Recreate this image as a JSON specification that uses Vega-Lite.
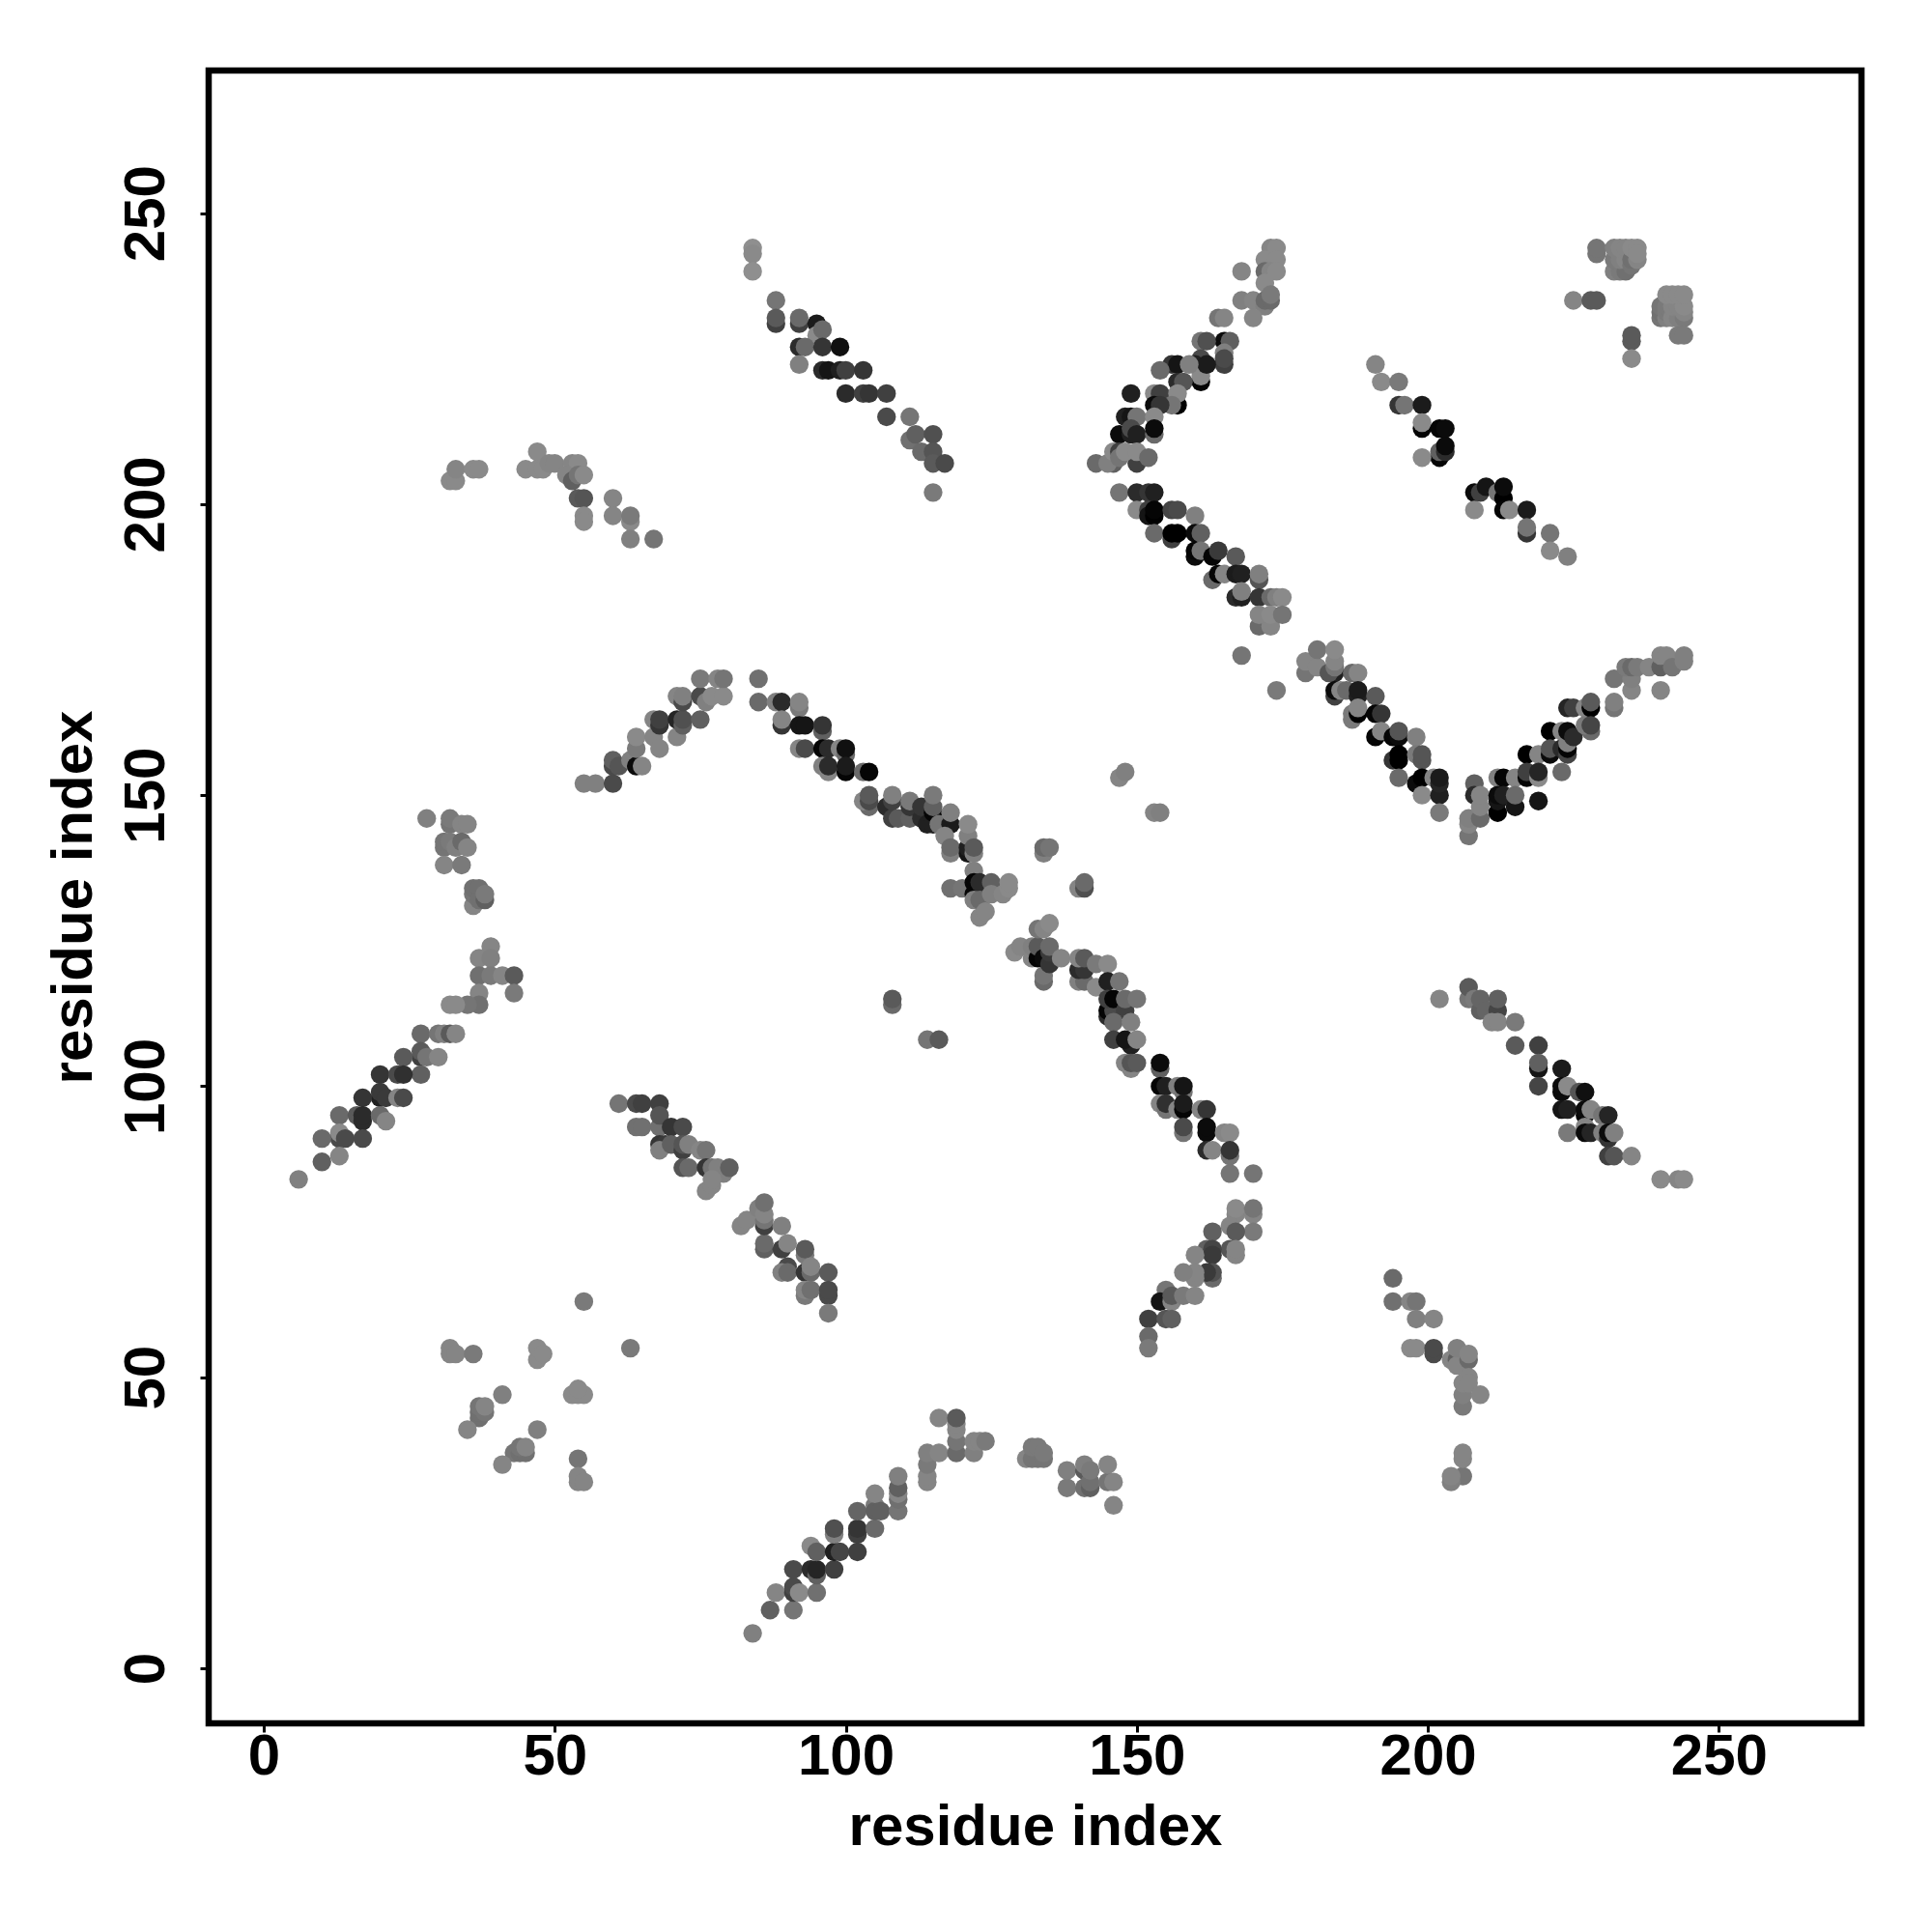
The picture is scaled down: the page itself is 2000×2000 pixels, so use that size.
{"$schema":"https://vega.github.io/schema/vega-lite/v6.json","width":1711,"height":1711,"autosize":"none","padding":{"left":216,"top":73,"right":73,"bottom":216},"background":"white","config":{"view":{"stroke":"#000000","strokeWidth":6.5,"fill":null}},
"data":{"values":[
{"x":84,"y":244,"g":135},{"x":84,"y":243,"g":130},{"x":84,"y":240,"g":135},{"x":32,"y":204,"g":130},{"x":33,"y":204,"g":130},{"x":33,"y":206,"g":125},{"x":36,"y":206,"g":130},{"x":37,"y":206,"g":130},{"x":45,"y":206,"g":130},{"x":47,"y":209,"g":130},{"x":47,"y":206,"g":130},{"x":48,"y":206,"g":130},{"x":49,"y":207,"g":125},{"x":50,"y":207,"g":125},{"x":53,"y":207,"g":125},{"x":54,"y":207,"g":130},{"x":52,"y":205,"g":125},{"x":53,"y":204,"g":90},{"x":54,"y":205,"g":110},{"x":55,"y":205,"g":130},{"x":54,"y":201,"g":85},{"x":55,"y":201,"g":80},{"x":55,"y":198,"g":130},{"x":55,"y":197,"g":130},{"x":60,"y":201,"g":125},{"x":60,"y":198,"g":125},{"x":63,"y":197,"g":130},{"x":63,"y":198,"g":115},{"x":63,"y":194,"g":120},{"x":67,"y":194,"g":110},
{"x":88,"y":235,"g":110},{"x":88,"y":231,"g":60},{"x":88,"y":232,"g":85},{"x":92,"y":231,"g":60},{"x":92,"y":232,"g":100},{"x":95,"y":231,"g":25},{"x":95,"y":229,"g":130},{"x":96,"y":230,"g":100},{"x":92,"y":227,"g":40},{"x":93,"y":227,"g":100},{"x":92,"y":224,"g":120},{"x":96,"y":227,"g":50},{"x":96,"y":223,"g":40},{"x":97,"y":223,"g":20},{"x":99,"y":227,"g":15},{"x":99,"y":223,"g":30},{"x":100,"y":223,"g":60},{"x":103,"y":223,"g":50},{"x":100,"y":219,"g":40},{"x":103,"y":219,"g":60},{"x":104,"y":219,"g":50},{"x":107,"y":219,"g":60},{"x":107,"y":215,"g":70},{"x":111,"y":215,"g":110},{"x":111,"y":211,"g":105},{"x":112,"y":212,"g":90},{"x":115,"y":212,"g":75},{"x":113,"y":209,"g":100},{"x":115,"y":209,"g":80},{"x":115,"y":207,"g":85},{"x":117,"y":207,"g":70},{"x":115,"y":202,"g":115},
{"x":168,"y":240,"g":125},{"x":173,"y":244,"g":125},{"x":174,"y":244,"g":130},{"x":172,"y":242,"g":130},{"x":174,"y":242,"g":130},{"x":172,"y":240,"g":100},{"x":173,"y":240,"g":125},{"x":174,"y":240,"g":130},{"x":172,"y":238,"g":130},{"x":168,"y":235,"g":120},{"x":170,"y":235,"g":125},{"x":172,"y":234,"g":120},{"x":172,"y":235,"g":100},{"x":173,"y":235,"g":100},{"x":173,"y":236,"g":115},{"x":164,"y":232,"g":110},{"x":165,"y":232,"g":125},{"x":170,"y":232,"g":125},
{"x":165,"y":228,"g":10},{"x":161,"y":228,"g":110},{"x":162,"y":228,"g":75},{"x":166,"y":228,"g":90},{"x":165,"y":226,"g":120},{"x":165,"y":224,"g":60},{"x":165,"y":225,"g":70},{"x":161,"y":225,"g":70},{"x":160,"y":224,"g":30},{"x":161,"y":221,"g":5},{"x":161,"y":222,"g":130},{"x":162,"y":224,"g":25},{"x":156,"y":224,"g":50},{"x":157,"y":224,"g":20},{"x":159,"y":224,"g":120},{"x":157,"y":221,"g":40},{"x":158,"y":221,"g":80},{"x":154,"y":223,"g":100},
{"x":149,"y":219,"g":30},{"x":153,"y":219,"g":130},{"x":154,"y":219,"g":60},{"x":157,"y":217,"g":0},{"x":157,"y":219,"g":130},{"x":156,"y":217,"g":110},{"x":153,"y":217,"g":10},{"x":154,"y":217,"g":50},{"x":148,"y":215,"g":30},{"x":149,"y":215,"g":20},{"x":150,"y":215,"g":110},{"x":153,"y":215,"g":130},{"x":147,"y":212,"g":10},{"x":149,"y":212,"g":30},{"x":149,"y":213,"g":70},{"x":150,"y":212,"g":30},{"x":153,"y":212,"g":100},{"x":153,"y":213,"g":10},{"x":150,"y":207,"g":60},{"x":146,"y":207,"g":90},{"x":143,"y":207,"g":100},{"x":145,"y":207,"g":120},{"x":146,"y":209,"g":130},{"x":147,"y":209,"g":60},{"x":147,"y":208,"g":110},{"x":148,"y":209,"g":130},{"x":150,"y":209,"g":130},{"x":152,"y":208,"g":100},
{"x":191,"y":224,"g":125},{"x":192,"y":221,"g":130},{"x":195,"y":221,"g":115},{"x":195,"y":217,"g":50},{"x":196,"y":217,"g":110},{"x":199,"y":217,"g":25},{"x":199,"y":213,"g":5},{"x":199,"y":214,"g":130},{"x":202,"y":213,"g":5},{"x":203,"y":213,"g":10},{"x":202,"y":208,"g":5},{"x":202,"y":209,"g":90},{"x":203,"y":209,"g":40},{"x":203,"y":210,"g":10},{"x":199,"y":208,"g":130},
{"x":208,"y":202,"g":10},{"x":209,"y":202,"g":60},{"x":210,"y":203,"g":20},{"x":212,"y":202,"g":110},{"x":213,"y":201,"g":0},{"x":213,"y":203,"g":10},{"x":208,"y":199,"g":130},{"x":213,"y":199,"g":5},{"x":214,"y":199,"g":130},{"x":217,"y":199,"g":25},{"x":217,"y":195,"g":50},{"x":217,"y":196,"g":110},{"x":221,"y":195,"g":110},{"x":221,"y":192,"g":130},{"x":224,"y":191,"g":120},
{"x":229,"y":243,"g":110},{"x":229,"y":244,"g":110},{"x":232,"y":240,"g":120},{"x":233,"y":240,"g":115},{"x":234,"y":240,"g":105},{"x":232,"y":242,"g":115},{"x":233,"y":242,"g":120},{"x":234,"y":242,"g":125},{"x":232,"y":244,"g":120},{"x":233,"y":244,"g":125},{"x":234,"y":244,"g":125},{"x":235,"y":241,"g":110},{"x":235,"y":242,"g":105},{"x":236,"y":242,"g":125},{"x":235,"y":244,"g":130},{"x":236,"y":244,"g":130},{"x":236,"y":243,"g":130},{"x":225,"y":235,"g":125},{"x":228,"y":235,"g":85},{"x":229,"y":235,"g":85},
{"x":240,"y":232,"g":110},{"x":240,"y":233,"g":105},{"x":240,"y":234,"g":110},{"x":241,"y":232,"g":120},{"x":241,"y":233,"g":115},{"x":241,"y":234,"g":115},{"x":242,"y":232,"g":125},{"x":243,"y":232,"g":120},{"x":243,"y":233,"g":120},{"x":244,"y":232,"g":115},{"x":244,"y":233,"g":125},{"x":242,"y":234,"g":125},{"x":243,"y":234,"g":125},{"x":244,"y":234,"g":130},{"x":241,"y":236,"g":130},{"x":242,"y":236,"g":130},{"x":243,"y":236,"g":130},{"x":244,"y":236,"g":130},{"x":243,"y":229,"g":115},{"x":244,"y":229,"g":115},{"x":235,"y":228,"g":85},{"x":235,"y":229,"g":85},{"x":235,"y":225,"g":130},
{"x":147,"y":202,"g":110},{"x":150,"y":202,"g":40},{"x":152,"y":202,"g":50},{"x":153,"y":202,"g":30},{"x":150,"y":199,"g":130},{"x":152,"y":199,"g":60},{"x":152,"y":198,"g":20},{"x":153,"y":198,"g":0},{"x":153,"y":199,"g":5},{"x":156,"y":199,"g":65},{"x":157,"y":199,"g":70},{"x":160,"y":198,"g":120},{"x":153,"y":195,"g":100},{"x":156,"y":194,"g":60},{"x":156,"y":195,"g":0},{"x":157,"y":195,"g":0},{"x":160,"y":195,"g":10},{"x":161,"y":195,"g":90},{"x":160,"y":191,"g":10},{"x":160,"y":192,"g":5},{"x":161,"y":192,"g":110},{"x":163,"y":191,"g":5},{"x":164,"y":192,"g":55},{"x":167,"y":191,"g":85},{"x":163,"y":187,"g":100},{"x":164,"y":188,"g":5},{"x":165,"y":188,"g":125},{"x":167,"y":188,"g":25},{"x":168,"y":188,"g":30},{"x":171,"y":187,"g":80},{"x":171,"y":188,"g":120},{"x":167,"y":184,"g":40},{"x":168,"y":184,"g":30},{"x":168,"y":185,"g":120},{"x":171,"y":184,"g":50},{"x":173,"y":184,"g":100},{"x":174,"y":184,"g":120},{"x":175,"y":184,"g":130},{"x":171,"y":179,"g":100},{"x":173,"y":179,"g":125},{"x":171,"y":181,"g":125},{"x":173,"y":181,"g":130},{"x":175,"y":181,"g":110},{"x":168,"y":174,"g":110},{"x":174,"y":168,"g":115},
{"x":179,"y":171,"g":110},{"x":179,"y":173,"g":125},{"x":181,"y":172,"g":125},{"x":181,"y":175,"g":110},{"x":184,"y":171,"g":30},{"x":183,"y":171,"g":80},{"x":184,"y":172,"g":110},{"x":184,"y":173,"g":125},{"x":184,"y":175,"g":130},{"x":187,"y":171,"g":100},{"x":188,"y":171,"g":125},{"x":184,"y":167,"g":60},{"x":184,"y":168,"g":10},{"x":185,"y":168,"g":125},{"x":186,"y":168,"g":100},{"x":188,"y":167,"g":30},{"x":188,"y":168,"g":25},{"x":187,"y":163,"g":115},{"x":187,"y":164,"g":115},{"x":188,"y":164,"g":0},{"x":188,"y":165,"g":125},{"x":191,"y":167,"g":85},{"x":191,"y":164,"g":5},{"x":192,"y":164,"g":50},{"x":191,"y":160,"g":5},{"x":192,"y":161,"g":125},{"x":194,"y":160,"g":5},{"x":195,"y":160,"g":10},{"x":195,"y":161,"g":80},{"x":198,"y":160,"g":120},{"x":194,"y":156,"g":50},{"x":195,"y":156,"g":0},{"x":195,"y":157,"g":0},{"x":198,"y":157,"g":115},{"x":199,"y":156,"g":80},{"x":199,"y":157,"g":80},{"x":195,"y":153,"g":100},{"x":198,"y":152,"g":10},{"x":199,"y":153,"g":0},{"x":199,"y":150,"g":130},{"x":201,"y":153,"g":125},{"x":202,"y":150,"g":30},{"x":202,"y":152,"g":35},{"x":202,"y":153,"g":25},{"x":202,"y":147,"g":115},
{"x":207,"y":143,"g":110},{"x":207,"y":145,"g":125},{"x":207,"y":146,"g":120},{"x":208,"y":152,"g":90},{"x":208,"y":150,"g":40},{"x":209,"y":146,"g":100},{"x":209,"y":148,"g":125},{"x":209,"y":150,"g":125},{"x":212,"y":153,"g":120},{"x":213,"y":153,"g":5},{"x":212,"y":147,"g":0},{"x":212,"y":149,"g":20},{"x":212,"y":150,"g":10},{"x":213,"y":150,"g":30},{"x":215,"y":153,"g":125},{"x":215,"y":148,"g":20},{"x":215,"y":150,"g":100},{"x":219,"y":149,"g":20},{"x":217,"y":157,"g":0},{"x":219,"y":157,"g":125},{"x":217,"y":153,"g":5},{"x":217,"y":154,"g":60},{"x":219,"y":153,"g":130},{"x":219,"y":154,"g":35},{"x":221,"y":161,"g":0},{"x":221,"y":157,"g":10},{"x":221,"y":158,"g":80},{"x":223,"y":158,"g":40},{"x":224,"y":157,"g":65},{"x":224,"y":158,"g":5},{"x":223,"y":154,"g":100},{"x":223,"y":161,"g":125},{"x":224,"y":159,"g":120},{"x":224,"y":161,"g":10},{"x":225,"y":160,"g":40},{"x":224,"y":165,"g":35},{"x":225,"y":165,"g":60},{"x":227,"y":165,"g":125},{"x":228,"y":165,"g":0},{"x":228,"y":166,"g":85},{"x":228,"y":161,"g":100},{"x":227,"y":162,"g":115},{"x":228,"y":162,"g":65},{"x":232,"y":165,"g":110},{"x":232,"y":166,"g":120},{"x":232,"y":170,"g":110},{"x":235,"y":168,"g":125},{"x":235,"y":170,"g":120},{"x":234,"y":172,"g":115},{"x":235,"y":172,"g":100},{"x":236,"y":172,"g":115},{"x":238,"y":172,"g":125},{"x":240,"y":172,"g":90},{"x":240,"y":168,"g":125},{"x":240,"y":174,"g":125},{"x":241,"y":174,"g":125},{"x":242,"y":172,"g":110},{"x":244,"y":173,"g":120},{"x":244,"y":174,"g":120},
{"x":55,"y":152,"g":120},{"x":57,"y":152,"g":120},{"x":60,"y":152,"g":70},{"x":60,"y":155,"g":70},{"x":60,"y":156,"g":90},{"x":61,"y":155,"g":80},{"x":63,"y":156,"g":120},{"x":64,"y":155,"g":10},{"x":65,"y":155,"g":125},{"x":64,"y":158,"g":115},{"x":64,"y":160,"g":130},{"x":67,"y":160,"g":125},{"x":68,"y":158,"g":125},{"x":71,"y":160,"g":125},{"x":67,"y":163,"g":125},{"x":68,"y":162,"g":50},{"x":68,"y":163,"g":60},{"x":71,"y":163,"g":35},{"x":72,"y":162,"g":90},{"x":72,"y":163,"g":75},{"x":75,"y":163,"g":90},{"x":71,"y":167,"g":125},{"x":72,"y":166,"g":70},{"x":72,"y":167,"g":120},{"x":75,"y":167,"g":70},{"x":76,"y":166,"g":120},{"x":77,"y":167,"g":130},{"x":79,"y":167,"g":130},{"x":75,"y":170,"g":115},{"x":78,"y":170,"g":125},{"x":79,"y":170,"g":110},
{"x":85,"y":170,"g":105},{"x":85,"y":166,"g":100},{"x":88,"y":166,"g":120},{"x":89,"y":166,"g":40},{"x":92,"y":165,"g":115},{"x":92,"y":166,"g":125},{"x":89,"y":162,"g":50},{"x":89,"y":163,"g":125},{"x":92,"y":162,"g":20},{"x":93,"y":162,"g":20},{"x":96,"y":161,"g":90},{"x":96,"y":162,"g":50},{"x":92,"y":158,"g":125},{"x":93,"y":158,"g":70},{"x":96,"y":158,"g":5},{"x":97,"y":158,"g":40},{"x":99,"y":158,"g":125},{"x":100,"y":157,"g":100},{"x":100,"y":158,"g":15},{"x":96,"y":155,"g":120},{"x":97,"y":154,"g":125},{"x":97,"y":155,"g":40},{"x":100,"y":154,"g":5},{"x":100,"y":155,"g":25},{"x":103,"y":154,"g":100},{"x":104,"y":154,"g":5},
{"x":104,"y":148,"g":100},{"x":103,"y":149,"g":125},{"x":104,"y":149,"g":70},{"x":104,"y":150,"g":85},{"x":107,"y":148,"g":40},{"x":108,"y":146,"g":60},{"x":108,"y":149,"g":60},{"x":108,"y":150,"g":120},{"x":109,"y":146,"g":85},{"x":111,"y":146,"g":90},{"x":111,"y":148,"g":50},{"x":111,"y":149,"g":115},{"x":113,"y":146,"g":40},{"x":113,"y":148,"g":50},{"x":114,"y":145,"g":30},{"x":115,"y":145,"g":30},{"x":115,"y":147,"g":5},{"x":115,"y":148,"g":90},{"x":115,"y":150,"g":115},{"x":116,"y":145,"g":110},{"x":118,"y":145,"g":25},{"x":118,"y":147,"g":120},{"x":117,"y":143,"g":125},{"x":118,"y":140,"g":120},{"x":118,"y":141,"g":100},{"x":121,"y":140,"g":20},{"x":121,"y":141,"g":30},{"x":121,"y":143,"g":120},{"x":121,"y":145,"g":130},{"x":122,"y":140,"g":120},{"x":122,"y":141,"g":85},
{"x":118,"y":134,"g":105},{"x":120,"y":134,"g":110},{"x":122,"y":137,"g":120},{"x":122,"y":133,"g":5},{"x":122,"y":135,"g":5},{"x":123,"y":135,"g":40},{"x":122,"y":132,"g":120},{"x":123,"y":132,"g":100},{"x":123,"y":129,"g":125},{"x":124,"y":130,"g":125},{"x":125,"y":135,"g":90},{"x":125,"y":133,"g":120},{"x":127,"y":133,"g":125},{"x":128,"y":134,"g":130},{"x":128,"y":135,"g":130},
{"x":134,"y":140,"g":120},{"x":134,"y":141,"g":100},{"x":135,"y":141,"g":110},{"x":140,"y":134,"g":125},{"x":141,"y":134,"g":75},{"x":141,"y":135,"g":100},{"x":108,"y":114,"g":100},{"x":108,"y":115,"g":85},{"x":114,"y":108,"g":110},{"x":116,"y":108,"g":85},{"x":147,"y":153,"g":125},{"x":148,"y":154,"g":120},{"x":153,"y":147,"g":125},{"x":154,"y":147,"g":120},
{"x":129,"y":123,"g":130},{"x":130,"y":124,"g":125},{"x":132,"y":122,"g":125},{"x":132,"y":124,"g":120},{"x":133,"y":122,"g":5},{"x":133,"y":124,"g":85},{"x":133,"y":127,"g":110},{"x":134,"y":118,"g":100},{"x":134,"y":119,"g":110},{"x":134,"y":122,"g":10},{"x":135,"y":121,"g":50},{"x":135,"y":123,"g":55},{"x":135,"y":124,"g":100},{"x":134,"y":127,"g":125},{"x":135,"y":128,"g":130},{"x":137,"y":122,"g":125},{"x":140,"y":118,"g":120},{"x":141,"y":118,"g":100},{"x":140,"y":120,"g":40},{"x":141,"y":120,"g":50},{"x":140,"y":122,"g":125},{"x":141,"y":122,"g":85},{"x":143,"y":117,"g":130},{"x":143,"y":121,"g":115},{"x":145,"y":121,"g":130},{"x":145,"y":118,"g":30},{"x":147,"y":118,"g":110},
{"x":145,"y":112,"g":40},{"x":145,"y":113,"g":5},{"x":146,"y":113,"g":70},{"x":145,"y":115,"g":60},{"x":146,"y":115,"g":5},{"x":148,"y":113,"g":60},{"x":148,"y":115,"g":100},{"x":150,"y":115,"g":110},{"x":146,"y":111,"g":100},{"x":149,"y":111,"g":120},{"x":146,"y":108,"g":60},{"x":149,"y":107,"g":30},{"x":148,"y":108,"g":20},{"x":150,"y":108,"g":125},{"x":149,"y":103,"g":125},{"x":148,"y":104,"g":125},{"x":149,"y":104,"g":80},{"x":150,"y":104,"g":85},
{"x":154,"y":103,"g":90},{"x":154,"y":104,"g":10},{"x":154,"y":100,"g":5},{"x":155,"y":100,"g":30},{"x":154,"y":97,"g":125},{"x":155,"y":96,"g":110},{"x":155,"y":97,"g":45},{"x":157,"y":100,"g":120},{"x":158,"y":99,"g":110},{"x":158,"y":100,"g":20},{"x":157,"y":96,"g":125},{"x":158,"y":96,"g":5},{"x":158,"y":97,"g":25},{"x":158,"y":92,"g":110},{"x":158,"y":93,"g":70},{"x":161,"y":96,"g":125},{"x":162,"y":96,"g":50},{"x":162,"y":92,"g":10},{"x":162,"y":93,"g":10},{"x":162,"y":89,"g":40},{"x":163,"y":89,"g":125},{"x":165,"y":92,"g":125},{"x":166,"y":92,"g":130},{"x":166,"y":88,"g":110},{"x":166,"y":89,"g":50},{"x":166,"y":85,"g":110},{"x":170,"y":85,"g":110},
{"x":167,"y":78,"g":125},{"x":167,"y":79,"g":130},{"x":170,"y":78,"g":125},{"x":170,"y":79,"g":110},{"x":170,"y":75,"g":115},{"x":166,"y":76,"g":125},{"x":167,"y":75,"g":85},{"x":163,"y":75,"g":90},{"x":166,"y":72,"g":80},{"x":167,"y":71,"g":125},{"x":167,"y":72,"g":125},{"x":162,"y":72,"g":90},{"x":163,"y":72,"g":65},{"x":163,"y":71,"g":55},{"x":160,"y":71,"g":125},{"x":163,"y":67,"g":100},{"x":163,"y":68,"g":75},{"x":162,"y":68,"g":55},{"x":160,"y":67,"g":125},{"x":160,"y":68,"g":125},{"x":158,"y":68,"g":120},{"x":155,"y":65,"g":110},{"x":154,"y":63,"g":20},{"x":156,"y":63,"g":125},{"x":156,"y":64,"g":85},{"x":158,"y":64,"g":115},{"x":160,"y":64,"g":125},{"x":152,"y":60,"g":60},{"x":155,"y":60,"g":80},{"x":156,"y":60,"g":90},{"x":152,"y":57,"g":100},{"x":152,"y":55,"g":115},
{"x":194,"y":67,"g":100},{"x":194,"y":63,"g":105},{"x":197,"y":63,"g":125},{"x":198,"y":63,"g":110},{"x":198,"y":60,"g":120},{"x":201,"y":60,"g":125},{"x":197,"y":55,"g":130},{"x":198,"y":55,"g":130},{"x":201,"y":54,"g":70},{"x":201,"y":55,"g":70},{"x":204,"y":53,"g":125},{"x":205,"y":53,"g":90},{"x":205,"y":52,"g":125},{"x":205,"y":55,"g":120},{"x":207,"y":53,"g":100},{"x":207,"y":54,"g":125},{"x":207,"y":50,"g":125},{"x":206,"y":45,"g":115},{"x":206,"y":47,"g":120},{"x":206,"y":49,"g":125},{"x":207,"y":49,"g":125},{"x":209,"y":47,"g":125},{"x":206,"y":33,"g":110},{"x":204,"y":32,"g":120},{"x":204,"y":33,"g":125},{"x":206,"y":36,"g":125},{"x":206,"y":37,"g":125},
{"x":28,"y":146,"g":120},{"x":32,"y":145,"g":110},{"x":32,"y":146,"g":115},{"x":34,"y":145,"g":125},{"x":35,"y":145,"g":125},{"x":31,"y":141,"g":110},{"x":31,"y":142,"g":110},{"x":32,"y":142,"g":115},{"x":33,"y":141,"g":120},{"x":34,"y":142,"g":100},{"x":35,"y":141,"g":125},{"x":31,"y":138,"g":125},{"x":34,"y":138,"g":115},{"x":36,"y":131,"g":125},{"x":36,"y":133,"g":110},{"x":36,"y":134,"g":105},{"x":37,"y":134,"g":105},{"x":37,"y":132,"g":105},{"x":38,"y":132,"g":90},{"x":38,"y":133,"g":115},
{"x":39,"y":124,"g":125},{"x":37,"y":122,"g":125},{"x":39,"y":122,"g":120},{"x":37,"y":119,"g":105},{"x":39,"y":119,"g":115},{"x":41,"y":119,"g":125},{"x":43,"y":119,"g":85},{"x":43,"y":116,"g":115},{"x":37,"y":116,"g":125},{"x":37,"y":114,"g":105},{"x":35,"y":114,"g":110},{"x":32,"y":114,"g":130},{"x":33,"y":114,"g":130},{"x":27,"y":109,"g":100},{"x":30,"y":109,"g":110},{"x":31,"y":109,"g":120},{"x":32,"y":109,"g":85},{"x":33,"y":109,"g":125},{"x":27,"y":105,"g":60},{"x":27,"y":106,"g":85},{"x":28,"y":105,"g":110},{"x":30,"y":105,"g":125},{"x":24,"y":105,"g":85},{"x":27,"y":102,"g":90},{"x":20,"y":102,"g":50},{"x":23,"y":102,"g":70},{"x":24,"y":102,"g":45},{"x":20,"y":98,"g":30},{"x":20,"y":99,"g":55},{"x":21,"y":98,"g":55},{"x":17,"y":98,"g":50},{"x":23,"y":98,"g":125},{"x":24,"y":98,"g":70},{"x":13,"y":95,"g":100},{"x":16,"y":95,"g":85},{"x":17,"y":94,"g":40},{"x":17,"y":95,"g":40},{"x":20,"y":95,"g":100},{"x":21,"y":94,"g":125},{"x":13,"y":91,"g":70},{"x":13,"y":92,"g":130},{"x":14,"y":91,"g":70},{"x":17,"y":91,"g":70},{"x":10,"y":91,"g":100},{"x":10,"y":87,"g":90},{"x":13,"y":88,"g":125},{"x":6,"y":84,"g":120},
{"x":61,"y":97,"g":110},{"x":64,"y":93,"g":105},{"x":65,"y":93,"g":105},{"x":64,"y":97,"g":70},{"x":65,"y":97,"g":60},{"x":68,"y":97,"g":60},{"x":68,"y":93,"g":105},{"x":68,"y":95,"g":80},{"x":70,"y":93,"g":50},{"x":72,"y":93,"g":70},{"x":68,"y":90,"g":50},{"x":69,"y":90,"g":55},{"x":68,"y":89,"g":120},{"x":70,"y":90,"g":90},{"x":72,"y":89,"g":60},{"x":72,"y":90,"g":80},{"x":73,"y":90,"g":120},{"x":75,"y":89,"g":125},{"x":76,"y":89,"g":110},{"x":72,"y":86,"g":80},{"x":73,"y":86,"g":100},{"x":76,"y":86,"g":50},{"x":77,"y":86,"g":110},{"x":78,"y":86,"g":120},{"x":79,"y":85,"g":120},{"x":80,"y":86,"g":90},{"x":76,"y":82,"g":125},{"x":77,"y":83,"g":125},{"x":77,"y":84,"g":125},
{"x":82,"y":76,"g":125},{"x":83,"y":77,"g":125},{"x":86,"y":72,"g":90},{"x":86,"y":73,"g":100},{"x":86,"y":76,"g":60},{"x":86,"y":77,"g":110},{"x":85,"y":79,"g":120},{"x":86,"y":78,"g":125},{"x":86,"y":80,"g":105},{"x":89,"y":72,"g":60},{"x":89,"y":76,"g":120},{"x":90,"y":73,"g":125},{"x":93,"y":71,"g":115},{"x":93,"y":72,"g":85},{"x":90,"y":69,"g":70},{"x":89,"y":68,"g":120},{"x":90,"y":68,"g":100},{"x":93,"y":68,"g":50},{"x":94,"y":68,"g":100},{"x":94,"y":69,"g":125},{"x":97,"y":68,"g":85},{"x":93,"y":64,"g":115},{"x":93,"y":65,"g":125},{"x":94,"y":65,"g":105},{"x":97,"y":64,"g":70},{"x":97,"y":65,"g":70},{"x":97,"y":61,"g":115},
{"x":55,"y":63,"g":115},{"x":63,"y":55,"g":115},{"x":32,"y":54,"g":125},{"x":32,"y":55,"g":125},{"x":33,"y":54,"g":125},{"x":36,"y":54,"g":115},{"x":47,"y":53,"g":130},{"x":47,"y":55,"g":130},{"x":48,"y":54,"g":130},{"x":53,"y":47,"g":130},{"x":54,"y":47,"g":130},{"x":55,"y":47,"g":130},{"x":54,"y":48,"g":130},{"x":41,"y":47,"g":120},{"x":37,"y":43,"g":105},{"x":37,"y":44,"g":105},{"x":38,"y":44,"g":110},{"x":37,"y":45,"g":110},{"x":38,"y":45,"g":125},{"x":35,"y":41,"g":125},{"x":47,"y":41,"g":120},{"x":43,"y":37,"g":110},{"x":44,"y":37,"g":105},{"x":45,"y":37,"g":105},{"x":44,"y":38,"g":110},{"x":45,"y":38,"g":125},{"x":41,"y":35,"g":125},{"x":54,"y":36,"g":110},{"x":54,"y":32,"g":125},{"x":54,"y":33,"g":125},{"x":55,"y":32,"g":125},
{"x":84,"y":6,"g":120},{"x":87,"y":10,"g":90},{"x":91,"y":10,"g":110},{"x":88,"y":13,"g":125},{"x":91,"y":13,"g":60},{"x":91,"y":14,"g":70},{"x":92,"y":13,"g":130},{"x":95,"y":13,"g":105},{"x":91,"y":17,"g":70},{"x":94,"y":17,"g":40},{"x":95,"y":16,"g":90},{"x":95,"y":17,"g":35},{"x":98,"y":17,"g":60},{"x":94,"y":21,"g":130},{"x":95,"y":20,"g":90},{"x":98,"y":20,"g":30},{"x":99,"y":20,"g":65},{"x":102,"y":20,"g":60},{"x":98,"y":23,"g":120},{"x":98,"y":24,"g":75},{"x":102,"y":23,"g":60},{"x":102,"y":24,"g":50},{"x":102,"y":27,"g":95},{"x":105,"y":24,"g":100},{"x":105,"y":28,"g":115},{"x":105,"y":27,"g":90},{"x":106,"y":27,"g":90},{"x":105,"y":30,"g":125},{"x":109,"y":27,"g":110},{"x":109,"y":29,"g":105},{"x":109,"y":30,"g":125},{"x":109,"y":31,"g":90},{"x":109,"y":33,"g":120},
{"x":114,"y":32,"g":125},{"x":114,"y":33,"g":125},{"x":114,"y":35,"g":115},{"x":114,"y":37,"g":120},{"x":116,"y":37,"g":125},{"x":116,"y":43,"g":125},{"x":119,"y":37,"g":100},{"x":119,"y":39,"g":110},{"x":119,"y":41,"g":125},{"x":119,"y":42,"g":125},{"x":119,"y":43,"g":85},{"x":122,"y":37,"g":120},{"x":122,"y":39,"g":125},{"x":123,"y":39,"g":125},{"x":124,"y":39,"g":115},
{"x":131,"y":36,"g":125},{"x":132,"y":36,"g":110},{"x":133,"y":36,"g":110},{"x":132,"y":38,"g":115},{"x":133,"y":38,"g":115},{"x":134,"y":36,"g":110},{"x":134,"y":37,"g":115},{"x":138,"y":31,"g":115},{"x":138,"y":34,"g":120},{"x":141,"y":31,"g":105},{"x":141,"y":34,"g":85},{"x":141,"y":35,"g":120},{"x":142,"y":31,"g":90},{"x":142,"y":32,"g":105},{"x":142,"y":34,"g":115},{"x":145,"y":32,"g":110},{"x":145,"y":35,"g":125},{"x":146,"y":32,"g":125},{"x":146,"y":28,"g":125},
{"x":202,"y":115,"g":125},{"x":207,"y":115,"g":110},{"x":207,"y":117,"g":85},{"x":208,"y":115,"g":115},{"x":209,"y":113,"g":90},{"x":209,"y":115,"g":95},{"x":210,"y":113,"g":95},{"x":212,"y":113,"g":65},{"x":212,"y":115,"g":90},{"x":211,"y":111,"g":125},{"x":212,"y":111,"g":125},{"x":215,"y":111,"g":115},{"x":215,"y":107,"g":85},{"x":219,"y":107,"g":60},{"x":219,"y":103,"g":20},{"x":219,"y":104,"g":90},{"x":219,"y":100,"g":65},{"x":223,"y":103,"g":25},{"x":223,"y":99,"g":10},{"x":223,"y":100,"g":10},{"x":224,"y":100,"g":130},{"x":223,"y":96,"g":20},{"x":224,"y":96,"g":30},{"x":226,"y":99,"g":80},{"x":227,"y":99,"g":15},{"x":227,"y":95,"g":5},{"x":227,"y":96,"g":10},{"x":228,"y":96,"g":125},{"x":227,"y":93,"g":125},{"x":224,"y":92,"g":115},{"x":227,"y":92,"g":10},{"x":228,"y":92,"g":35},{"x":230,"y":95,"g":110},{"x":231,"y":95,"g":35},{"x":230,"y":92,"g":120},{"x":231,"y":91,"g":50},{"x":231,"y":92,"g":10},{"x":232,"y":92,"g":120},{"x":231,"y":88,"g":60},{"x":232,"y":88,"g":80},{"x":235,"y":88,"g":125},{"x":240,"y":84,"g":130},{"x":243,"y":84,"g":125},{"x":244,"y":84,"g":130}
]},
"mark":{"type":"circle","size":375,"opacity":1},
"encoding":{
"x":{"field":"x","type":"quantitative","scale":{"domain":[-9.46,274.5],"nice":false,"zero":false},"axis":{"title":"residue index","values":[0,50,100,150,200,250],"grid":false,"domain":false,"tickColor":"#000000","tickWidth":3,"tickSize":9,"labelFont":"Liberation Sans","labelFontWeight":"bold","labelFontSize":60,"labelColor":"#000000","labelPadding":-4,"labelFlush":false,"titleFont":"Liberation Sans","titleFontWeight":"bold","titleFontSize":60,"titleColor":"#000000","titlePadding":14}},
"y":{"field":"y","type":"quantitative","scale":{"domain":[-9.46,274.5],"nice":false,"zero":false},"axis":{"title":"residue index","values":[0,50,100,150,200,250],"grid":false,"domain":false,"tickColor":"#000000","tickWidth":3,"tickSize":9,"labelFont":"Liberation Sans","labelFontWeight":"bold","labelFontSize":60,"labelColor":"#000000","labelAngle":-90,"labelAlign":"center","labelBaseline":"bottom","labelPadding":25,"titleFont":"Liberation Sans","titleFontWeight":"bold","titleFontSize":60,"titleColor":"#000000","titlePadding":14}},
"color":{"field":"g","type":"quantitative","scale":{"domain":[0,240],"range":["#000000","#ffffff"],"interpolate":"rgb"},"legend":null}
}}
